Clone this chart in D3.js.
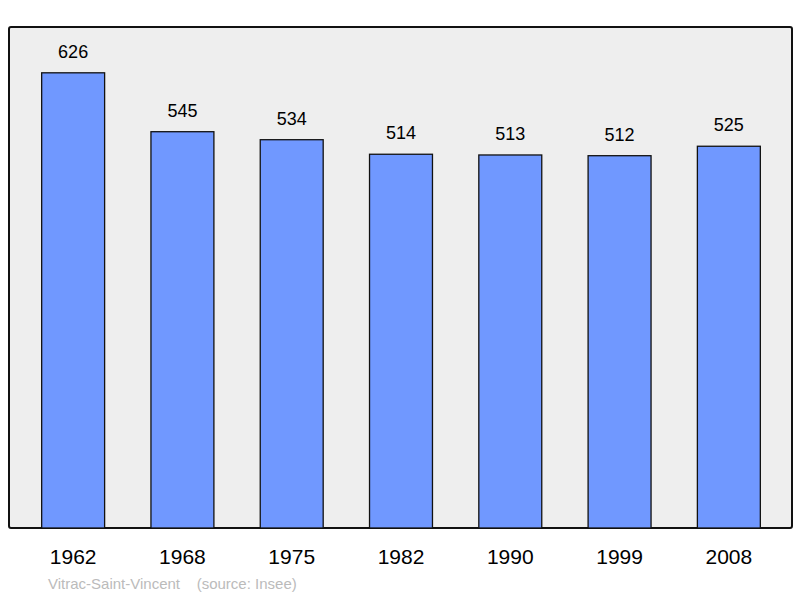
<!DOCTYPE html>
<html>
<head>
<meta charset="utf-8">
<script src="https://cdn.jsdelivr.net/npm/d3@7"></script>
<style>body{margin:0;background:#fff}text{font-family:"Liberation Sans",Arial,sans-serif}</style>
</head>
<body>
<svg id="chart" width="800" height="598"></svg>
<script>
const years = ['1962','1968','1975','1982','1990','1999','2008'];
const population = [626, 545, 534, 514, 513, 512, 525];

const svg = d3.select('#chart');
const plot = {left: 9, right: 792, top: 27, bottom: 528};

svg.append('rect')
  .attr('x', plot.left).attr('y', plot.top)
  .attr('width', plot.right - plot.left).attr('height', plot.bottom - plot.top)
  .attr('fill', '#eeeeee').attr('stroke', '#111').attr('stroke-width', 2).attr('rx', 2);

const x = d3.scaleBand().domain(years).range([18.5, 783.5]).paddingInner(0.424).paddingOuter(0.212);
const y = d3.scaleLinear().domain([0, 689]).range([plot.bottom, plot.top]);

const bars = svg.selectAll('.bar').data(years).enter().append('g');
bars.append('rect')
  .attr('x', d => x(d)).attr('width', x.bandwidth())
  .attr('y', (d, i) => y(population[i]))
  .attr('height', (d, i) => plot.bottom - y(population[i]))
  .attr('fill', '#7098ff').attr('stroke', '#111').attr('stroke-width', 1.3);
bars.append('text')
  .attr('x', d => x(d) + x.bandwidth() / 2)
  .attr('y', (d, i) => y(population[i]) - 15)
  .attr('text-anchor', 'middle').attr('font-size', 18)
  .text((d, i) => population[i]);
bars.append('text')
  .attr('x', d => x(d) + x.bandwidth() / 2)
  .attr('y', 564)
  .attr('text-anchor', 'middle').attr('font-size', 21)
  .text(d => d);

svg.append('text').attr('x', 48).attr('y', 589).attr('font-size', 15).attr('fill', '#bbbbbb')
  .attr('xml:space', 'preserve').text('Vitrac-Saint-Vincent    (source: Insee)');
</script>
</body>
</html>
